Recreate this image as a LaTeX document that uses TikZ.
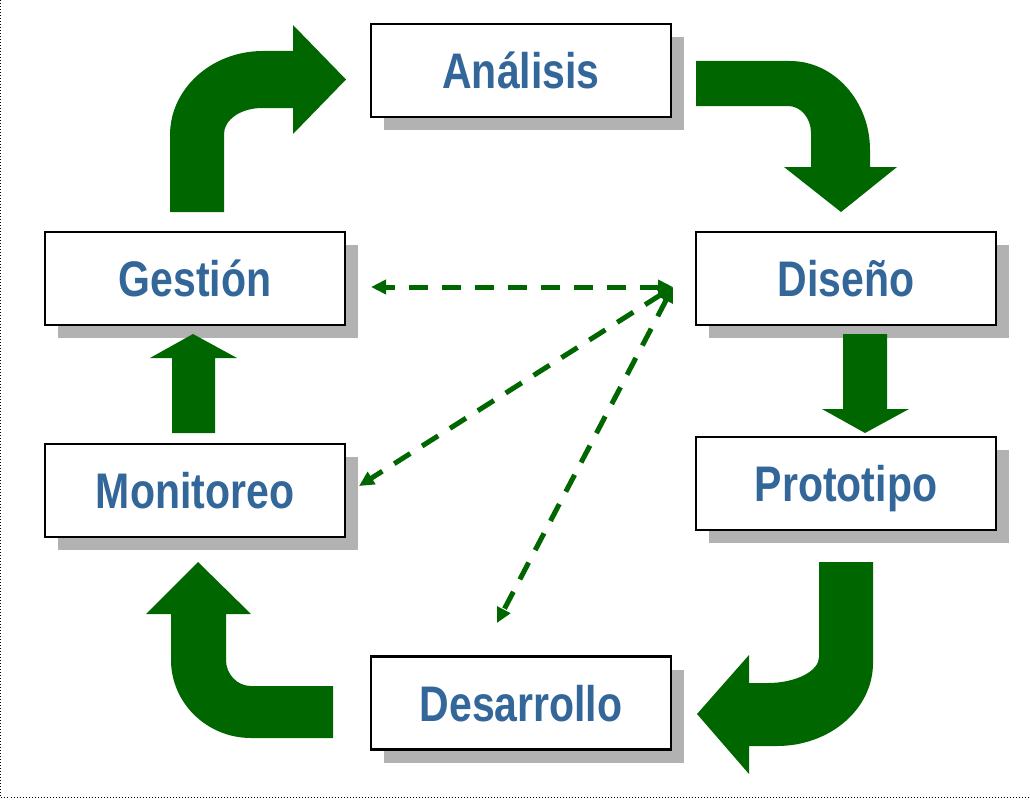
\documentclass[tikz,border=0pt]{standalone}
\usepackage{fontspec}
\newfontfamily\lblfont{Liberation Sans}[FakeStretch=0.82]
\usetikzlibrary{shadows,arrows.meta}
\definecolor{arrowgreen}{RGB}{0,102,0}
\definecolor{labelblue}{RGB}{51,102,153}
\definecolor{shadowgray}{RGB}{178,178,178}
\begin{document}
\begin{tikzpicture}[x=1pt,y=-1pt,
  stagebox/.style={draw=black, line width=2.5pt, fill=white,
    minimum width=300pt, minimum height=93pt, inner sep=0pt,
    text height=36pt, text depth=0pt,
    font=\lblfont\bfseries\fontsize{50}{60}\selectfont, text=labelblue,
    drop shadow={shadow xshift=13pt, shadow yshift=-13pt, fill=shadowgray, opacity=1}},
  blockarrow/.style={fill=arrowgreen, draw=none},
  linkline/.style={draw=arrowgreen, line width=5pt, dash pattern=on 19pt off 14pt,
    {Triangle[length=15pt,width=14pt]}-{Triangle[length=15pt,width=14pt]}},
  frameline/.style={draw=black, dotted, line width=1pt}]
\useasboundingbox (0,0) rectangle (1030,800);
\draw[frameline] (0.5,0) -- (0.5,797) -- (1030,797);

% stages
\node[stagebox] (ana) at (521,70.5) {Análisis};
\node[stagebox] (dis) at (846,278.5) {Diseño};
\node[stagebox] (pro) at (846,483.5) {Prototipo};
\node[stagebox] (ges) at (195,278.5) {Gestión};
\node[stagebox] (mon) at (195,490.5) {Monitoreo};
\node[stagebox] (des) at (521,703) {Desarrollo};

% Gestion -> Analisis
\fill[blockarrow] (170,212) -- (170,135)
  .. controls (170,88.6) and (211.7,51) .. (263,51)
  -- (293,51) -- (293,25) -- (346,79.5) -- (293,134) -- (293,108) -- (262,108)
  .. controls (241,108) and (224,119.6) .. (224,134)
  -- (224,212) -- cycle;

% Analisis -> Diseno
\fill[blockarrow] (696,61) -- (790,61)
  .. controls (834,61) and (870,101) .. (870,150)
  -- (870,167) -- (897,167) -- (841,212) -- (784,167) -- (811,167) -- (811,133)
  .. controls (811,118) and (800.7,106) .. (788,106)
  -- (696,106) -- cycle;

% Diseno -> Prototipo
\fill[blockarrow] (843,334) -- (887,334) -- (887,409) -- (909,409) -- (865,433)
  -- (822,409) -- (843,409) -- cycle;

% Prototipo -> Desarrollo
\fill[blockarrow] (819,562) -- (873,562) -- (873,663)
  .. controls (873,709) and (830,746) .. (777,746)
  -- (749,746) -- (749,774) -- (697,714) -- (749,655) -- (749,683) -- (768,683)
  .. controls (796,683) and (819,671) .. (819,657)
  -- cycle;

% Desarrollo -> Monitoreo
\fill[blockarrow] (333,686) -- (333,738) -- (251,738)
  .. controls (207,738) and (171,703) .. (171,660)
  -- (171,614) -- (146,614) -- (198,562) -- (251,614) -- (226,614) -- (226,660)
  .. controls (226,674) and (237,686) .. (251,686)
  -- cycle;

% Monitoreo -> Gestion
\fill[blockarrow] (172,433) -- (215,433) -- (215,358) -- (237,358) -- (193,334)
  -- (150,358) -- (172,358) -- cycle;

% dashed links
\coordinate (hub) at (673,287);
\coordinate (gesEnd) at (371,287);
\coordinate (monEnd) at (359,486);
\coordinate (desEnd) at (497,623);
\draw[linkline] (hub) -- (gesEnd);
\draw[linkline] (hub) -- (monEnd);
\draw[linkline] (hub) -- (desEnd);
\end{tikzpicture}
\end{document}
